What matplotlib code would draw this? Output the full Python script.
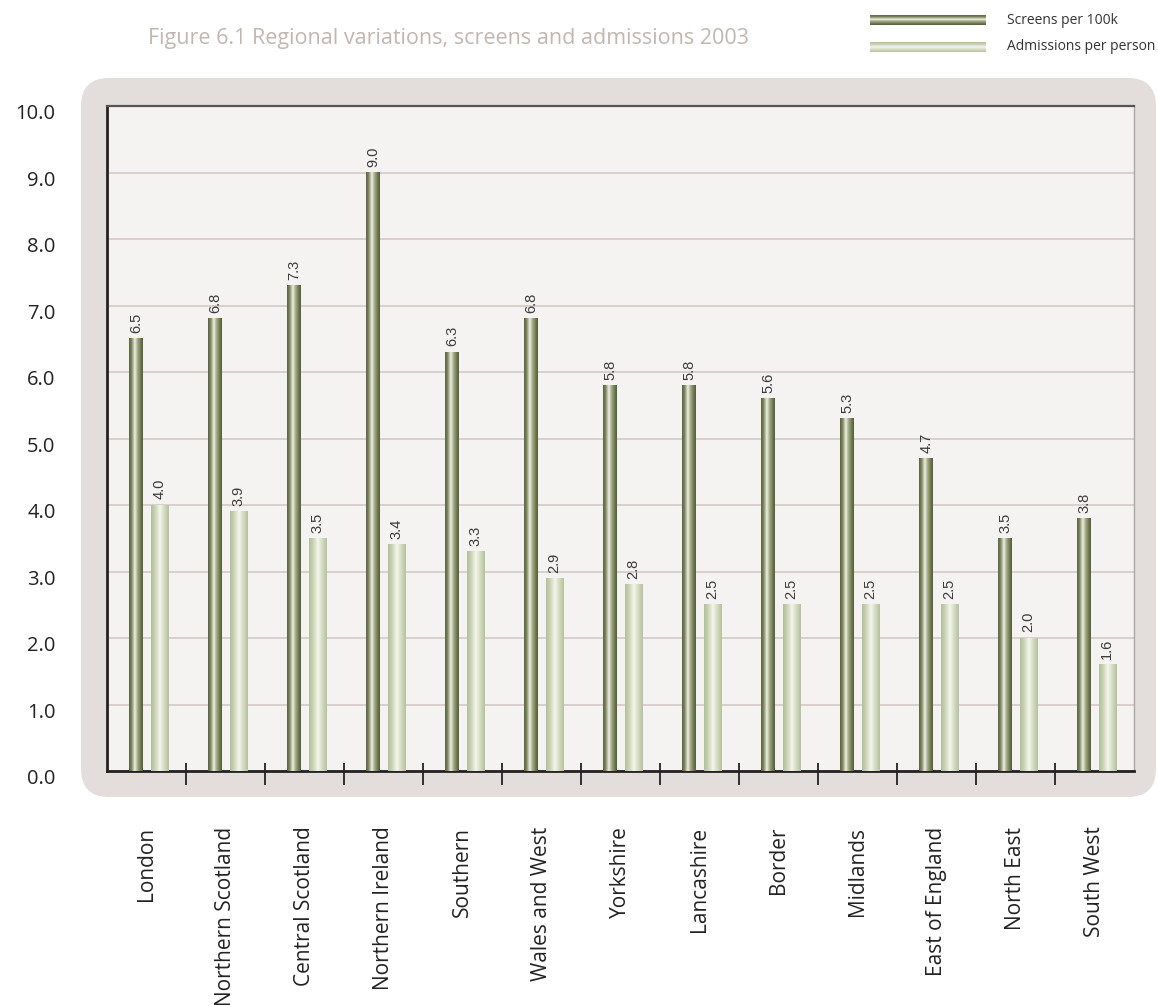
import numpy as np
import matplotlib
matplotlib.use("Agg")
import matplotlib.pyplot as plt
from matplotlib.colors import LinearSegmentedColormap
from matplotlib.patches import FancyBboxPatch
from matplotlib.transforms import ScaledTranslation, blended_transform_factory

# Regional figures, 2003
regions = ["London", "Northern Scotland", "Central Scotland", "Northern Ireland",
           "Southern", "Wales and West", "Yorkshire", "Lancashire", "Border",
           "Midlands", "East of England", "North East", "South West"]
screens = [6.5, 6.8, 7.3, 9.0, 6.3, 6.8, 5.8, 5.8, 5.6, 5.3, 4.7, 3.5, 3.8]
admissions = [4.0, 3.9, 3.5, 3.4, 3.3, 2.9, 2.8, 2.5, 2.5, 2.5, 2.5, 2.0, 1.6]
yticks = [0, 1, 2, 3, 4, 5, 6, 7, 8, 9, 10]

# cylinder-like shading for the bars (dark edge -> highlight -> dark edge)
dark_cmap = LinearSegmentedColormap.from_list(
    "dark", [(0, "#5a6540"), (0.18, "#7c8560"), (0.42, "#eef0e2"),
             (0.62, "#a3aa86"), (0.85, "#6d774f"), (1, "#545f3b")])
light_cmap = LinearSegmentedColormap.from_list(
    "light", [(0, "#b3bf9a"), (0.2, "#c8d1b2"), (0.5, "#f4f6ec"),
              (0.75, "#d3dbc0"), (1, "#b6c19e")])
shade = np.linspace(0, 1, 64).reshape(1, -1)

fig = plt.figure(figsize=(11.58, 10.05), dpi=100)

# background layer in pixel units
bg = fig.add_axes([0, 0, 1, 1], zorder=0)
bg.axis("off")
bg.add_patch(FancyBboxPatch((81, 78), 1075, 719,
                            boxstyle="round,pad=0,rounding_size=28",
                            fc="#e3dedb", ec="none"))
bg.text(148, 38, "Figure 6.1 Regional variations, screens and admissions 2003",
        fontsize=15.5, color="#c2b6b0", family="Open Sans", va="center")

# legend
vshade = shade.T
bg.imshow(vshade, cmap=dark_cmap, extent=(870, 986, 25, 15), aspect="auto")
bg.imshow(vshade, cmap=light_cmap, extent=(870, 986, 52, 42), aspect="auto")
bg.text(1007, 20, "Screens per 100k", fontsize=10, color="#333333",
        family="Open Sans", va="center")
bg.text(1007, 46, "Admissions per person", fontsize=10, color="#333333",
        family="Open Sans", va="center")
bg.set_xlim(0, 1158)
bg.set_ylim(1005, 0)

ax = fig.add_axes([107 / 1158, 1 - 771 / 1005, 1027 / 1158, 665 / 1005], zorder=1)
ax.set_facecolor("#f4f3f1")

x = np.arange(len(regions))
b1 = ax.bar(x + 0.37, screens, width=0.177, color="none", zorder=3)
b2 = ax.bar(x + 0.66, admissions, width=0.218, color="none", zorder=3)

for bars, cmap in ((b1, dark_cmap), (b2, light_cmap)):
    for r in bars:
        x0, w, h = r.get_x(), r.get_width(), r.get_height()
        ax.imshow(shade, cmap=cmap, extent=(x0, x0 + w, 0, h),
                  aspect="auto", zorder=3)
        ax.annotate(f"{h:.1f}", (x0 + w / 2, h), xytext=(0, 4),
                    textcoords="offset points", rotation=90, ha="center",
                    va="bottom", fontsize=10.5, color="#3a3a3a",
                    family="Liberation Sans")
ax.set_xlim(0, len(regions))
ax.set_ylim(0, 10)

ax.set_yticks(yticks)
ax.set_yticklabels([f"{v:.1f}" for v in yticks], family="Open Sans",
                   fontsize=14.5, color="#222222")
ax.tick_params(axis="y", length=0, pad=37)
shift = ScaledTranslation(0, -4 / 72, fig.dpi_scale_trans)
for lab in ax.get_yticklabels():
    lab.set_transform(lab.get_transform() + shift)

ax.set_xticks(x + 0.5)
ax.set_xticklabels(regions, rotation=90, family="Open Sans", fontsize=15,
                   color="#222222", va="top")
ax.tick_params(axis="x", length=0, pad=40)

# separators between regions, crossing the baseline
trans = blended_transform_factory(ax.transData, ax.transAxes)
ax.vlines(np.arange(1, len(regions)), -14 / 665, 8 / 665, transform=trans,
          color="#222222", linewidth=1.3, clip_on=False, zorder=5)

ax.grid(axis="y", color="#d2c5c2", linewidth=1.1, zorder=1)
ax.set_axisbelow(True)

ax.spines["left"].set_color("#222222")
ax.spines["left"].set_linewidth(2)
ax.spines["bottom"].set_color("#222222")
ax.spines["bottom"].set_linewidth(2)
ax.spines["top"].set_color("#555555")
ax.spines["top"].set_linewidth(1.6)
ax.spines["right"].set_color("#a8a8a8")
ax.spines["right"].set_linewidth(1)

fig.savefig("out.png", dpi=100)
